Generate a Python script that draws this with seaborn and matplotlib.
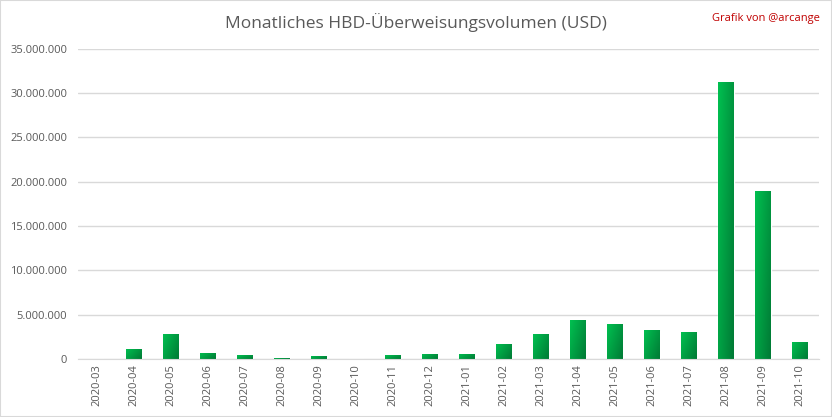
import numpy as np
import pandas as pd
import seaborn as sns
import matplotlib.pyplot as plt
from matplotlib.ticker import FuncFormatter
from matplotlib.colors import LinearSegmentedColormap

months = ["2020-03", "2020-04", "2020-05", "2020-06", "2020-07", "2020-08", "2020-09",
          "2020-10", "2020-11", "2020-12", "2021-01", "2021-02", "2021-03", "2021-04",
          "2021-05", "2021-06", "2021-07", "2021-08", "2021-09", "2021-10"]
volume_usd = [0, 1150000, 2850000, 700000, 450000, 150000, 350000,
              0, 450000, 600000, 600000, 1740000, 2770000, 4360000,
              3900000, 3330000, 3000000, 31300000, 19000000, 1970000]

df = pd.DataFrame({"month": months, "volume": volume_usd})

sns.set_style("white")
plt.rcParams['font.family'] = ['Open Sans', 'DejaVu Sans']

fig = plt.figure(figsize=(8.32, 4.17), dpi=100)
ax = fig.add_axes([0.094, 0.139, 0.89, 0.744])

sns.barplot(data=df, x="month", y="volume", color="#00a84f", width=0.42, ax=ax)

# gradient fill: light top-left, dark bottom-right
cmap = LinearSegmentedColormap.from_list("g", ["#00c050", "#007a35"])
xs = np.linspace(0, 1, 32).reshape(1, -1)
ys = np.linspace(0, 1, 64).reshape(-1, 1)
grad = 0.6 * xs + 0.4 * ys
for p in ax.patches:
    x0, y0 = p.get_x(), p.get_y()
    w, h = p.get_width(), p.get_height()
    if h <= 0:
        continue
    im = ax.imshow(grad, cmap=cmap, extent=[x0, x0 + w, y0, y0 + h],
                   aspect="auto", zorder=p.get_zorder() + 0.1, origin="upper",
                   vmin=0, vmax=1)
    im.set_clip_path(p)

ax.set_xlim(-0.5, len(months) - 0.5)
ax.set_ylim(0, 35000000)
ax.set_yticks(np.arange(0, 35000001, 5000000))
ax.yaxis.set_major_formatter(FuncFormatter(lambda v, _: f"{int(v):,}".replace(",", ".")))
ax.grid(axis="y", color="#d9d9d9", linewidth=1)
ax.set_axisbelow(True)
for s in ["top", "right", "left"]:
    ax.spines[s].set_visible(False)
ax.spines["bottom"].set_color("#d9d9d9")
ax.tick_params(axis="x", rotation=90, labelsize=8, colors="#595959", length=0)
ax.tick_params(axis="y", labelsize=8, colors="#595959", length=0, pad=8)
ax.set_xlabel("")
ax.set_ylabel("")

fig.text(0.5, 0.945, "Monatliches HBD-Überweisungsvolumen (USD)", ha="center", va="center",
         fontsize=12.5, color="#595959")
fig.text(0.985, 0.955, "Grafik von @arcange", ha="right", va="center", fontsize=8, color="#c00000")
fig.patches.append(plt.Rectangle((0, 0), 1, 1, transform=fig.transFigure, fill=False,
                                 edgecolor="#d9d9d9", linewidth=1.5))

fig.savefig("out.png", dpi=100)
